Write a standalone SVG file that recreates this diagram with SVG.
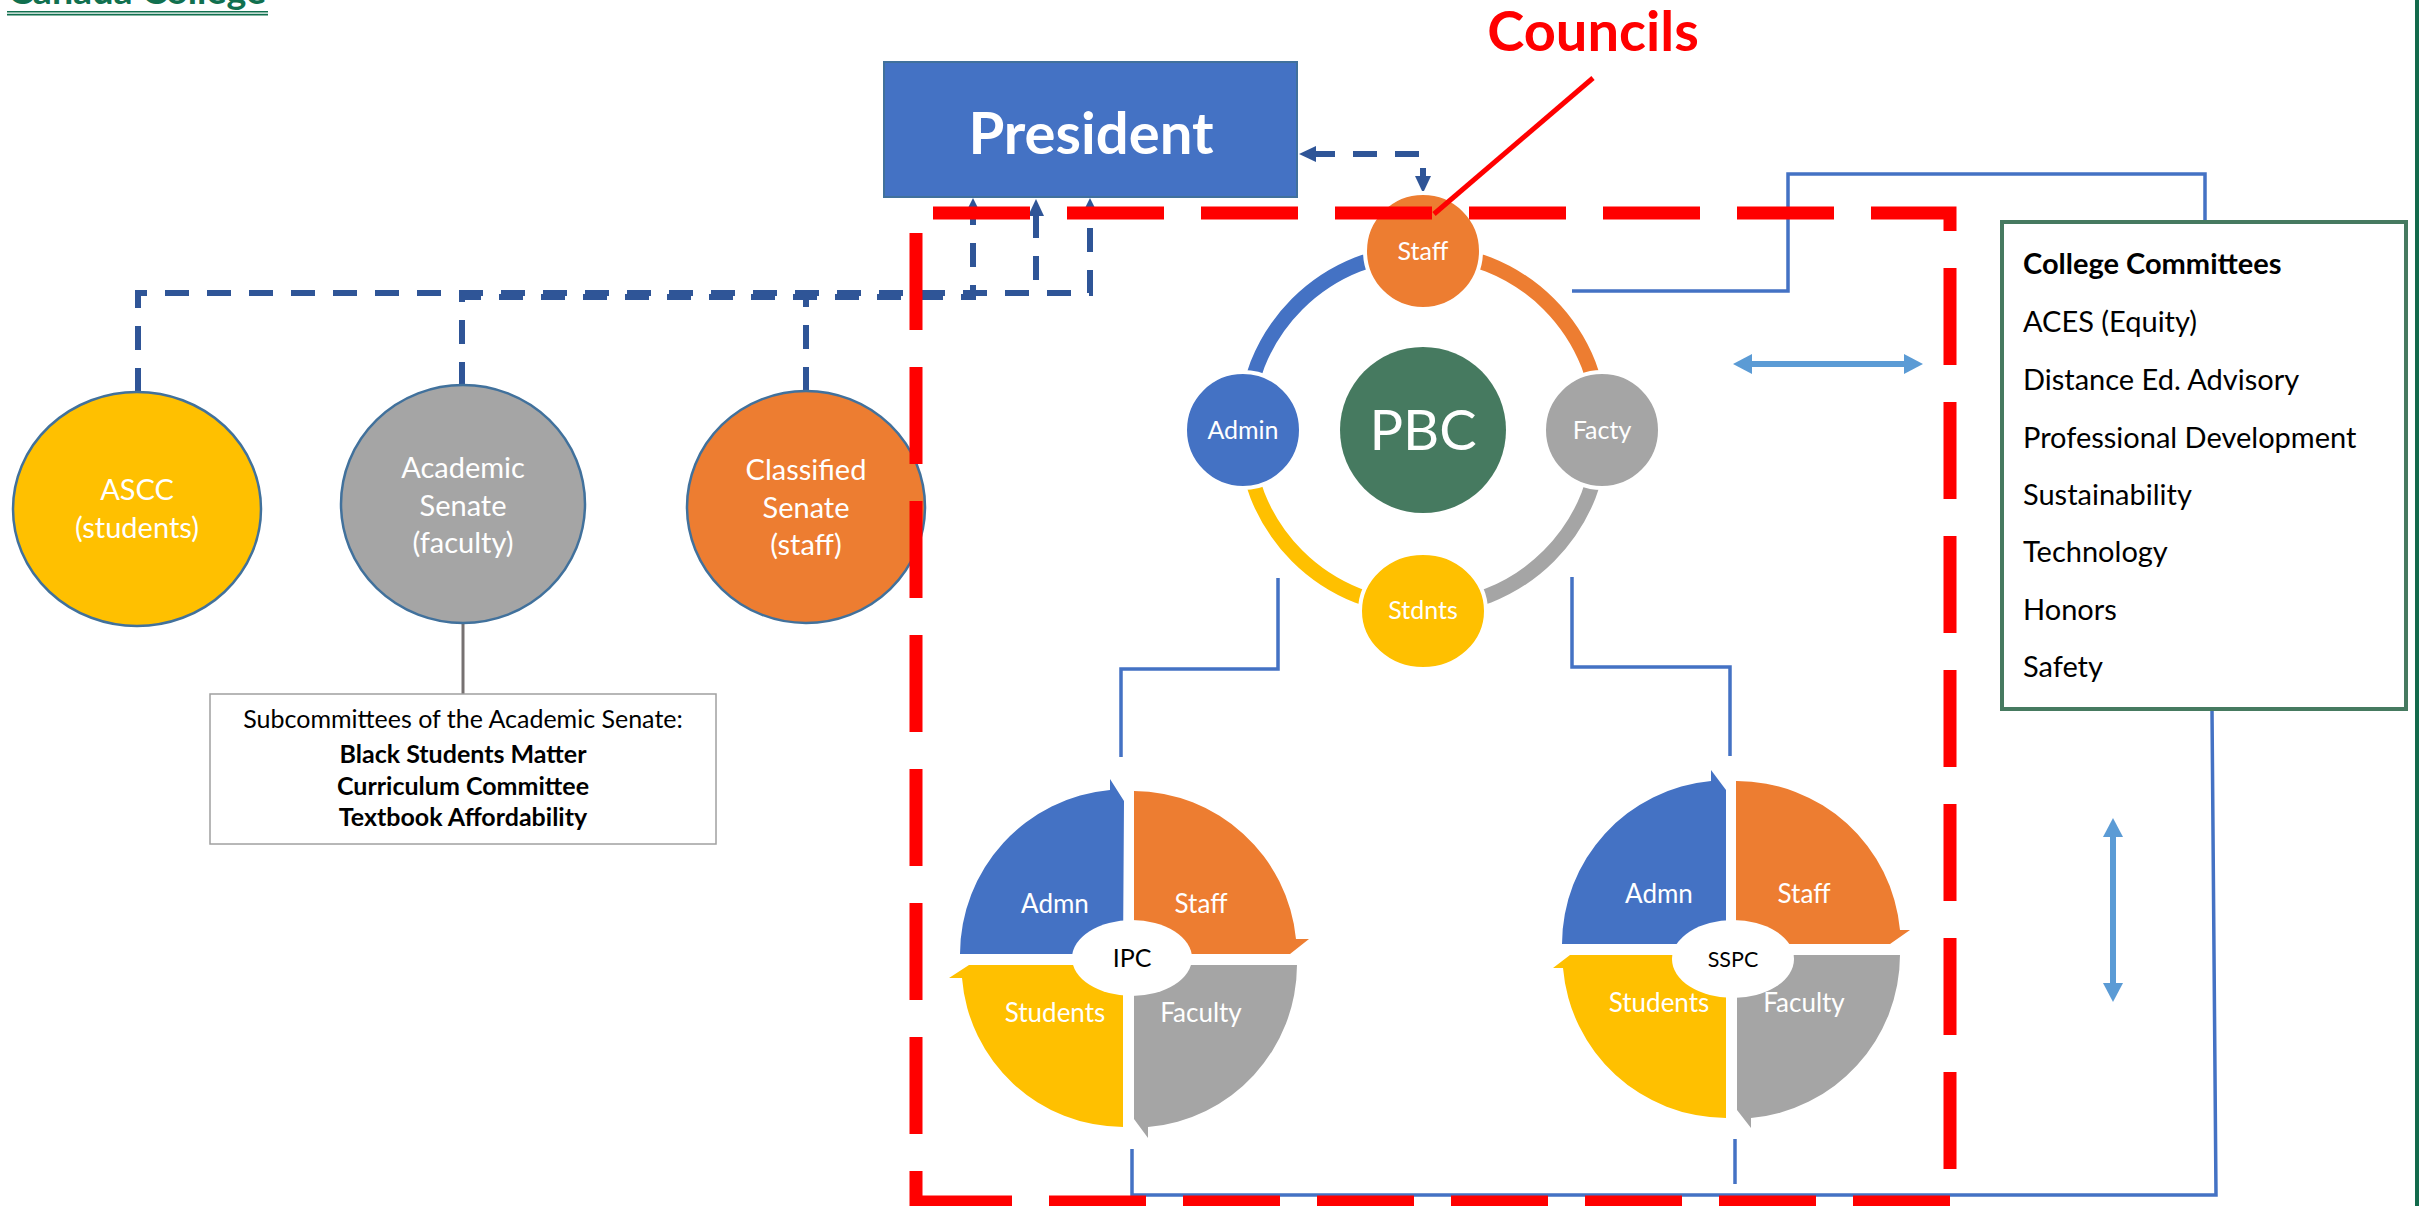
<svg xmlns="http://www.w3.org/2000/svg" width="2419" height="1206" viewBox="0 0 2419 1206">
<style>
text { font-family: Lato, "Open Sans", "Liberation Sans", sans-serif; }
.w { fill: #fff; }
.c { text-anchor: middle; }
.dash { fill: none; stroke: #2F5597; stroke-width: 6; stroke-dasharray: 24 18; }
.conn { fill: none; stroke: #4472C4; stroke-width: 3.5; }
.red { fill: none; stroke: #FF0000; stroke-width: 13; stroke-dasharray: 97 37; }
.ring { fill: none; stroke-width: 15; }
.lb { fill: none; stroke: #5B9BD5; stroke-width: 6; }
.big { stroke: #41719C; stroke-width: 2.5; }
.rc { stroke: #fff; stroke-width: 4; }
.qt { font-size: 26px; fill: #fff; text-anchor: middle; }
.lt { font-size: 29px; fill: #fff; text-anchor: middle; }
.cc { font-size: 29px; fill: #000; }
.sc { font-size: 25px; fill: #000; text-anchor: middle; }
.blue { fill: #4472C4; }
.orange { fill: #ED7D31; }
.gray { fill: #A5A5A5; }
.yellow { fill: #FFC000; }
</style>
<defs>
<marker id="aS" viewBox="0 0 10 10" refX="3" refY="5" markerWidth="10" markerHeight="10" markerUnits="userSpaceOnUse" orient="auto-start-reverse"><path d="M0,0L10,5L0,10z" fill="#2F5597"/></marker>
<marker id="aB" viewBox="0 0 17 16" refX="5" refY="8" markerWidth="17" markerHeight="16" markerUnits="userSpaceOnUse" orient="auto-start-reverse"><path d="M0,0L17,8L0,16z" fill="#2F5597"/></marker>
<marker id="aL" viewBox="0 0 19 20" refX="6" refY="10" markerWidth="19" markerHeight="20" markerUnits="userSpaceOnUse" orient="auto-start-reverse"><path d="M0,0L19,10L0,20z" fill="#5B9BD5"/></marker>
</defs>
<rect width="2419" height="1206" fill="#fff"/>

<g id="logo">
<text x="8" y="4" font-family="'Liberation Serif', serif" font-weight="bold" font-size="36" fill="#11704F" textLength="258" lengthAdjust="spacingAndGlyphs">Cañada College</text>
<line x1="7" y1="11.8" x2="268" y2="11.8" stroke="#11704F" stroke-width="1.6"/>
<line x1="7" y1="14.6" x2="268" y2="14.6" stroke="#11704F" stroke-width="1.6"/>
</g>
<line id="page-edge" x1="2417" y1="0" x2="2417" y2="1206" stroke="#136B4C" stroke-width="4"/>

<g id="connectors">
<path class="dash" d="M138,392 V293 H1090 V205" marker-end="url(#aS)"/>
<path class="dash" d="M462,386 V297 H973 V205" marker-end="url(#aS)"/>
<path class="dash" d="M806,391 V293"/>
<path class="dash" d="M1036,280 V211" marker-end="url(#aB)"/>
<path class="dash" d="M1311,154 H1423 V181" marker-start="url(#aB)" marker-end="url(#aB)"/>
<path class="conn" d="M1572,291 H1788 V174 H2205 V222"/>
<path class="conn" d="M1278,578 V669 H1121 V757"/>
<path class="conn" d="M1572,577 V667 H1730 V756"/>
<path class="conn" d="M2212,710 L2216,1195 H1132 V1149"/>
<path class="conn" d="M1735,1139 V1184"/>
<path d="M463,623 V694" stroke="#767171" stroke-width="3" fill="none"/>
<path class="lb" d="M1746,364 H1910" marker-start="url(#aL)" marker-end="url(#aL)"/>
<path class="lb" d="M2113,831 V989" marker-start="url(#aL)" marker-end="url(#aL)"/>
</g>

<g id="president">
<rect x="884" y="62" width="413" height="135" fill="#4472C4" stroke="#41719C" stroke-width="2"/>
<text x="1091" y="154" class="w c" font-size="58" font-weight="bold">President</text>
</g>

<g id="ascc">
<ellipse cx="137" cy="509" rx="124" ry="117" class="yellow big"/>
<text x="137" y="500" class="lt">ASCC</text>
<text x="137" y="538" class="lt">(students)</text>
</g>
<g id="academic-senate">
<ellipse cx="463" cy="504" rx="122" ry="119" class="gray big"/>
<text x="463" y="478" class="lt">Academic</text>
<text x="463" y="516" class="lt">Senate</text>
<text x="463" y="553" class="lt">(faculty)</text>
</g>
<g id="classified-senate">
<ellipse cx="806" cy="507" rx="119" ry="116" class="orange big"/>
<text x="806" y="480" class="lt">Classified</text>
<text x="806" y="518" class="lt">Senate</text>
<text x="806" y="555" class="lt">(staff)</text>
</g>

<g id="subcommittees">
<rect x="210" y="694" width="506" height="150" fill="#fff" stroke="#A0A0A0" stroke-width="1.5"/>
<text x="463" y="728" class="sc">Subcommittees of the Academic Senate:</text>
<text x="463" y="763" class="sc" font-weight="bold">Black Students Matter</text>
<text x="463" y="795" class="sc" font-weight="bold">Curriculum Committee</text>
<text x="463" y="826" class="sc" font-weight="bold">Textbook Affordability</text>
</g>

<g id="pbc">
<path class="ring" stroke="#4472C4" d="M1423,252 A178,178 0 0 0 1245,430"/>
<path class="ring" stroke="#ED7D31" d="M1423,252 A178,178 0 0 1 1601,430"/>
<path class="ring" stroke="#A5A5A5" d="M1601,430 A178,178 0 0 1 1423,608"/>
<path class="ring" stroke="#FFC000" d="M1245,430 A178,178 0 0 0 1423,608"/>
<circle cx="1423" cy="430" r="83" fill="#467A60"/>
<text x="1423" y="450" class="w c" font-size="56">PBC</text>
<circle cx="1423" cy="251" r="58" class="orange rc"/>
<text x="1423" y="260" class="w c" font-size="25">Staff</text>
<circle cx="1243" cy="430" r="58" class="blue rc"/>
<text x="1243" y="439" class="w c" font-size="25">Admin</text>
<circle cx="1602" cy="430" r="58" class="gray rc"/>
<text x="1602" y="439" class="w c" font-size="25">Facty</text>
<ellipse cx="1423" cy="611" rx="63" ry="58" class="yellow rc"/>
<text x="1423" y="619" class="w c" font-size="25">Stdnts</text>
</g>

<g id="ipc">
<path class="blue" d="M1123,954 H960 A165,165 0 0 1 1110,790 V779 L1124,801 Z"/>
<path class="orange" d="M1134,954 V791 A164,164 0 0 1 1296,939 H1309 L1290,954 Z"/>
<path class="gray" d="M1134,965 H1297 A163,163 0 0 1 1148,1127 V1138 L1134,1119 Z"/>
<path class="yellow" d="M1123,965 V1127 A162,162 0 0 1 962,978 H949 L969,965 Z"/>
<ellipse cx="1132" cy="958" rx="60" ry="38" fill="#fff"/>
<text x="1132" y="967" class="c" font-size="25" fill="#000">IPC</text>
<text x="1055" y="913" class="qt">Admn</text>
<text x="1201" y="913" class="qt">Staff</text>
<text x="1055" y="1022" class="qt">Students</text>
<text x="1201" y="1022" class="qt">Faculty</text>
</g>

<g id="sspc">
<path class="blue" d="M1726,944 H1562 A164,164 0 0 1 1711,781 V770 L1726,790 Z"/>
<path class="orange" d="M1736,944 V781 A164,164 0 0 1 1900,930 H1910 L1890,944 Z"/>
<path class="gray" d="M1737,955 H1900 A164,164 0 0 1 1751,1118 V1128 L1737,1110 Z"/>
<path class="yellow" d="M1726,955 V1118 A164,164 0 0 1 1563,968 H1553 L1570,955 Z"/>
<ellipse cx="1733" cy="959" rx="61" ry="39" fill="#fff"/>
<text x="1733" y="967" class="c" font-size="21.5" fill="#000">SSPC</text>
<text x="1659" y="903" class="qt">Admn</text>
<text x="1804" y="903" class="qt">Staff</text>
<text x="1659" y="1012" class="qt">Students</text>
<text x="1804" y="1012" class="qt">Faculty</text>
</g>

<g id="college-committees">
<rect x="2002" y="222" width="404" height="487" fill="#fff" stroke="#467A60" stroke-width="4"/>
<text x="2023" y="274" class="cc" font-weight="bold">College Committees</text>
<text x="2023" y="332" class="cc">ACES (Equity)</text>
<text x="2023" y="390" class="cc">Distance Ed. Advisory</text>
<text x="2023" y="448" class="cc">Professional Development</text>
<text x="2023" y="505" class="cc">Sustainability</text>
<text x="2023" y="562" class="cc">Technology</text>
<text x="2023" y="620" class="cc">Honors</text>
<text x="2023" y="677" class="cc">Safety</text>
</g>

<g id="councils">
<path class="red" d="M933,213 H1950 V1202"/>
<path class="red" d="M1950,1202 H910"/>
<path class="red" d="M916,233 V1210"/>
<line x1="1593" y1="78" x2="1434" y2="214" stroke="#FF0000" stroke-width="5"/>
<text x="1593" y="51" class="c" font-size="56" font-weight="bold" fill="#FF0000">Councils</text>
</g>
</svg>
